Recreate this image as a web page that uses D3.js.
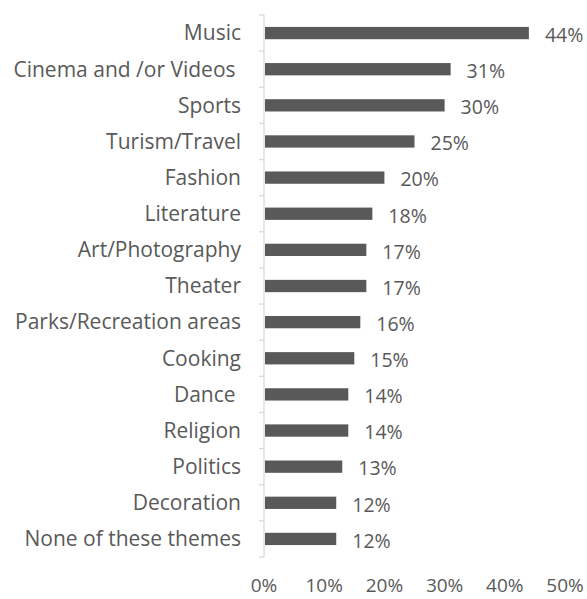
<!DOCTYPE html>
<meta charset="utf-8">
<script src="https://d3js.org/d3.v7.min.js"></script>
<style>
  body { margin: 0; background: #fff; }
  text { font-family: "Open Sans", sans-serif; fill: #595959; white-space: pre; }
</style>
<div id="chart"></div>
<script>
    // data (two labels carry a trailing space in the original)
    var categories = ["Music", "Cinema and /or Videos ", "Sports", "Turism/Travel", "Fashion",
        "Literature", "Art/Photography", "Theater", "Parks/Recreation areas", "Cooking",
        "Dance ", "Religion", "Politics", "Decoration", "None of these themes"];
    var values = [44, 31, 30, 25, 20, 18, 17, 17, 16, 15, 14, 14, 13, 12, 12];
    var ticks = [0, 10, 20, 30, 40, 50];

    var data = categories.map((c, i) => ({ name: c, value: values[i] }));

    // set the dimensions and margins of the graph
    var margin = { top: 15, right: 22, bottom: 42, left: 264 },
        width = 587 - margin.left - margin.right,
        height = 599 - margin.top - margin.bottom;

    var svg = d3.select("#chart")
        .append("svg")
        .attr("width", 587)
        .attr("height", 599)
        .append("g")
        .attr("transform", "translate(" + margin.left + "," + margin.top + ")");

    var xScale = d3.scaleLinear()
        .domain([0, 50])
        .range([0, 301]);

    var yScale = d3.scaleBand()
        .domain(categories)
        .range([0, height])
        .paddingInner(0.66)
        .paddingOuter(0.33);

    // axis line with tick marks at band edges
    svg.append("line")
        .attr("x1", 0).attr("x2", 0)
        .attr("y1", 0).attr("y2", height)
        .attr("stroke", "#d9d9d9").attr("stroke-width", 1.3);

    var step = height / categories.length;
    svg.selectAll(".edge")
        .data(d3.range(categories.length + 1))
        .enter()
        .append("line")
        .attr("x1", -5).attr("x2", 0)
        .attr("y1", d => d * step).attr("y2", d => d * step)
        .attr("stroke", "#d9d9d9").attr("stroke-width", 1.3);

    // category labels
    svg.selectAll(".cat")
        .data(data)
        .enter()
        .append("text")
        .attr("x", -23)
        .attr("y", d => yScale(d.name) + yScale.bandwidth() / 2)
        .attr("dy", "0.35em")
        .attr("text-anchor", "end")
        .style("font-size", "21px")
        .text(d => d.name);

    // bars
    svg.selectAll(".bar")
        .data(data)
        .enter()
        .append("rect")
        .attr("x", 1)
        .attr("y", d => yScale(d.name))
        .attr("width", d => xScale(d.value) - 1)
        .attr("height", yScale.bandwidth())
        .attr("fill", "#595959");

    // value labels
    svg.selectAll(".val")
        .data(data)
        .enter()
        .append("text")
        .attr("x", d => xScale(d.value) + 16)
        .attr("y", d => yScale(d.name) + yScale.bandwidth() / 2 + 2)
        .attr("dy", "0.35em")
        .style("font-size", "19.5px")
        .text(d => d.value + "%");

    // x tick labels
    svg.selectAll(".tick")
        .data(ticks)
        .enter()
        .append("text")
        .attr("x", d => xScale(d))
        .attr("y", height + 35)
        .attr("text-anchor", "middle")
        .style("font-size", "19px")
        .text(d => d + "%");
</script>
